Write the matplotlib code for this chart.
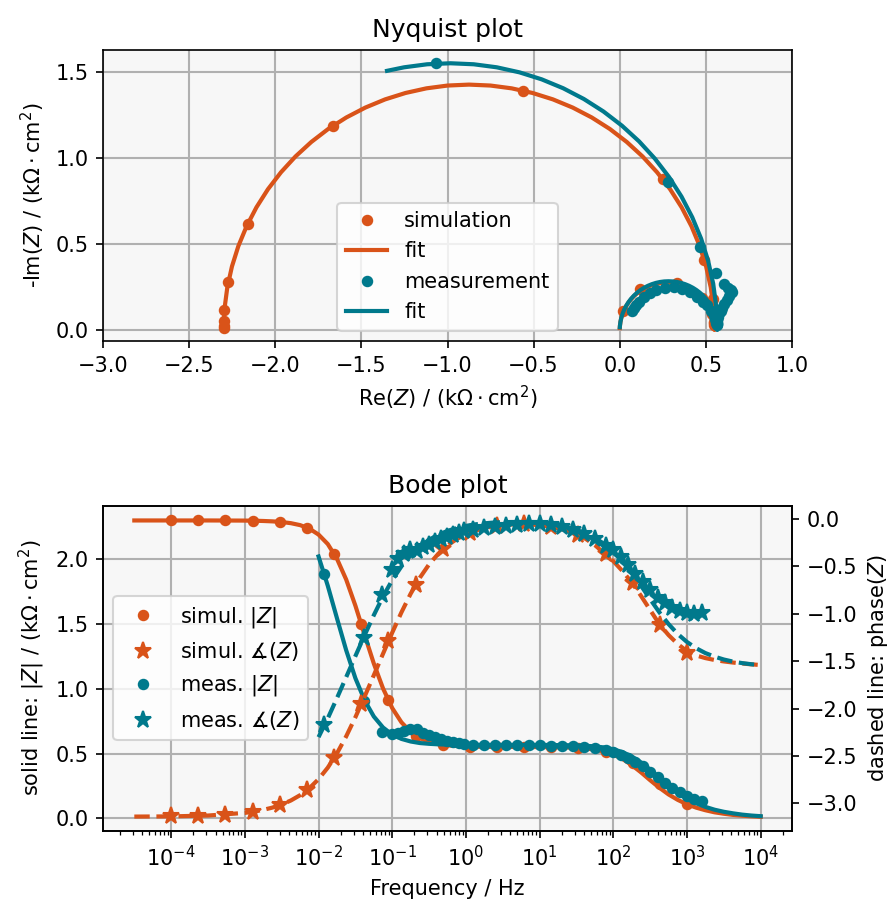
import numpy as np
import matplotlib
matplotlib.use('Agg')
import matplotlib.pyplot as plt
from matplotlib.ticker import MultipleLocator, LogLocator, NullFormatter

C_SIM = '#d95319'
C_MEAS = '#00798c'

# ---------------- simulated data points ----------------
sim_freq = [1.000e-4, 2.336e-4, 5.456e-4, 1.274e-3, 2.976e-3, 6.952e-3, 1.624e-2, 3.793e-2,
            8.859e-2, 0.2069, 0.4833, 1.129, 2.637, 6.158, 14.38, 33.60, 78.48, 183.3, 428.1, 1000.0]
sim_absz = [2.300, 2.300, 2.300, 2.298, 2.290, 2.245, 2.044, 1.500, 0.910, 0.638,
            0.568, 0.554, 0.551, 0.550, 0.549, 0.543, 0.512, 0.430, 0.265, 0.112]
sim_phase = [-3.137, -3.132, -3.119, -3.090, -3.020, -2.863, -2.523, -1.956, -1.292, -0.696,
             -0.322, -0.145, -0.073, -0.056, -0.083, -0.171, -0.370, -0.680, -1.118, -1.417]

# ---------------- measured data points ----------------
meas_freq = [0.0118, 0.0416, 0.0723, 0.0990, 0.120, 0.145, 0.174, 0.214, 0.263, 0.316, 0.380,
             0.457, 0.550, 0.661, 0.794, 0.955, 1.26, 1.78, 2.51, 3.55, 5.01, 7.08, 10.0, 14.1,
             20.0, 28.2, 39.8, 56.2, 79.4, 100.0, 126.0, 158.0, 200.0, 251.0, 316.0, 398.0,
             501.0, 631.0, 794.0, 1000.0, 1259.0, 1585.0]
meas_absz = [1.884, 0.905, 0.669, 0.650, 0.660, 0.675, 0.687, 0.688, 0.662, 0.645, 0.626,
             0.610, 0.597, 0.587, 0.579, 0.573, 0.568, 0.566, 0.565, 0.564, 0.564, 0.563, 0.563,
             0.562, 0.561, 0.558, 0.552, 0.540, 0.525, 0.510, 0.490, 0.465, 0.435, 0.400, 0.360,
             0.315, 0.275, 0.235, 0.200, 0.175, 0.152, 0.130]
meas_phase = [-2.174, -1.259, -0.800, -0.538, -0.420, -0.370, -0.330, -0.340, -0.300, -0.270,
              -0.240, -0.215, -0.190, -0.170, -0.150, -0.132, -0.115, -0.098, -0.083, -0.070,
              -0.060, -0.055, -0.058, -0.068, -0.088, -0.118, -0.155, -0.210, -0.280, -0.330,
              -0.400, -0.490, -0.580, -0.670, -0.750, -0.830, -0.890, -0.940, -0.970, -0.990,
              -1.000, -0.995]

# ---------------- Nyquist fit curves (read along the arcs) ----------------
sim_fit_re = [-2.3000, -2.2946, -2.2783, -2.2514, -2.2141, -2.1665, -2.1091, -2.0424, -1.9666,
              -1.8826, -1.7910, -1.6924, -1.5875, -1.4772, -1.3624, -1.2438, -1.1224, -0.9992,
              -0.8750, -0.7508, -0.6276, -0.5062, -0.3876, -0.2728, -0.1625, -0.0576, 0.0410,
              0.1326, 0.2166, 0.2924, 0.3591, 0.4165, 0.4641, 0.5014, 0.5283, 0.5446, 0.5500,
              0.5490, 0.5458, 0.5406, 0.5334, 0.5242, 0.5132, 0.5003, 0.4857, 0.4695, 0.4518,
              0.4327, 0.4125, 0.3912, 0.3691, 0.3462, 0.3227, 0.2990, 0.2750, 0.2510, 0.2273,
              0.2038, 0.1809, 0.1588, 0.1375, 0.1173, 0.0982, 0.0805, 0.0643, 0.0497, 0.0368,
              0.0258, 0.0166, 0.0094, 0.0042, 0.0010, 0.0002]
sim_fit_negim = [0.0030, 0.1242, 0.2474, 0.3688, 0.4874, 0.6022, 0.7125, 0.8174, 0.9160,
                 1.0076, 1.0916, 1.1674, 1.2341, 1.2915, 1.3391, 1.3764, 1.4033, 1.4196,
                 1.4250, 1.4196, 1.4033, 1.3764, 1.3391, 1.2915, 1.2341, 1.1674, 1.0916,
                 1.0076, 0.9160, 0.8174, 0.7125, 0.6022, 0.4874, 0.3688, 0.2474, 0.1242, 0.0000,
                 0.0240, 0.0477, 0.0712, 0.0941, 0.1162, 0.1375, 0.1577, 0.1768, 0.1945, 0.2107,
                 0.2253, 0.2382, 0.2492, 0.2584, 0.2656, 0.2708, 0.2740, 0.2750, 0.2740, 0.2708,
                 0.2656, 0.2584, 0.2492, 0.2382, 0.2253, 0.2107, 0.1945, 0.1768, 0.1577, 0.1375,
                 0.1162, 0.0941, 0.0712, 0.0477, 0.0240, 0.0110]
meas_fit_re = [-1.3510, -1.2519, -1.1181, -0.9830, -0.8479, -0.7141, -0.5821, -0.4532, -0.3284,
               -0.2085, -0.0945, 0.0127, 0.1123, 0.2035, 0.2859, 0.3585, 0.4209, 0.4726,
               0.5132, 0.5425, 0.5601, 0.5660,
               0.5649, 0.5617, 0.5564, 0.5489, 0.5395, 0.5281, 0.5148, 0.4998, 0.4831, 0.4649,
               0.4453, 0.4245, 0.4026, 0.3798, 0.3562, 0.3321, 0.3077, 0.2830, 0.2583, 0.2339,
               0.2098, 0.1862, 0.1634, 0.1415, 0.1207, 0.1011, 0.0829, 0.0662, 0.0512, 0.0379,
               0.0265, 0.0171, 0.0096, 0.0043, 0.0011, 0.0003]
meas_fit_negim = [1.5050, 1.5255, 1.5431, 1.5490, 1.5431, 1.5255, 1.4962, 1.4556, 1.4039,
                  1.3415, 1.2689, 1.1865, 1.0953, 0.9957, 0.8885, 0.7745, 0.6546, 0.5298,
                  0.4009, 0.2689, 0.1351, 0.0000,
                  0.0247, 0.0491, 0.0732, 0.0968, 0.1196, 0.1415, 0.1623, 0.1819, 0.2001, 0.2168,
                  0.2318, 0.2451, 0.2565, 0.2659, 0.2734, 0.2787, 0.2819, 0.2830, 0.2819, 0.2787,
                  0.2734, 0.2659, 0.2565, 0.2451, 0.2318, 0.2168, 0.2001, 0.1819, 0.1623, 0.1415,
                  0.1196, 0.0968, 0.0732, 0.0491, 0.0247, 0.0160]

# ---------------- Bode fit curves ----------------
simfit_freq = [3.162e-5, 1.000e-4, 3.162e-4, 1.000e-3, 1.334e-3, 1.778e-3, 2.371e-3, 3.162e-3,
               4.217e-3, 5.623e-3, 7.499e-3, 1.000e-2, 1.334e-2, 1.778e-2, 2.371e-2, 3.162e-2,
               4.217e-2, 5.623e-2, 7.499e-2, 0.1000, 0.1334, 0.1778, 0.2371, 0.3162, 0.4217,
               0.5623, 0.7499, 1.000, 1.334, 1.778, 2.371, 3.162, 4.217, 5.623, 7.499, 10.00,
               13.34, 17.78, 23.71, 31.62, 42.17, 56.23, 74.99, 100.0, 133.4, 177.8, 237.1,
               316.2, 421.7, 562.3, 749.9, 1000.0, 1334.0, 1778.0, 2371.0, 3162.0, 4217.0,
               5623.0, 7499.0, 10000.0]
simfit_absz = [2.300, 2.300, 2.300, 2.299, 2.298, 2.296, 2.293, 2.288, 2.279, 2.264, 2.237,
               2.191, 2.118, 2.004, 1.844, 1.642, 1.416, 1.195, 1.003, 0.851, 0.741, 0.667,
               0.619, 0.590, 0.573, 0.563, 0.558, 0.555, 0.553, 0.552, 0.551, 0.551, 0.551,
               0.550, 0.550, 0.550, 0.549, 0.548, 0.547, 0.544, 0.539, 0.530, 0.515, 0.492,
               0.458, 0.411, 0.355, 0.294, 0.236, 0.184, 0.142, 0.108, 0.082, 0.062, 0.046,
               0.035, 0.026, 0.020, 0.015, 0.011]
simfit_phase = [-3.140, -3.138, -3.129, -3.101, -3.087, -3.069, -3.045, -3.013, -2.970, -2.914,
                -2.841, -2.745, -2.624, -2.473, -2.294, -2.092, -1.874, -1.649, -1.422, -1.199,
                -0.985, -0.789, -0.620, -0.479, -0.367, -0.279, -0.212, -0.162, -0.124, -0.097,
                -0.078, -0.066, -0.058, -0.056, -0.058, -0.066, -0.078, -0.098, -0.125, -0.162,
                -0.210, -0.276, -0.360, -0.445, -0.550, -0.670, -0.810, -0.960, -1.110, -1.225,
                -1.320, -1.395, -1.440, -1.468, -1.488, -1.503, -1.515, -1.525, -1.534, -1.541]

measfit_freq = [1.000e-2, 1.334e-2, 1.778e-2, 2.371e-2, 3.162e-2, 4.217e-2, 5.623e-2, 7.499e-2,
                0.1000, 0.1334, 0.1778, 0.2371, 0.3162, 0.4217, 0.5623, 0.7499, 1.000, 1.334,
                1.778, 2.371, 3.162, 4.217, 5.623, 7.499, 10.00, 13.34, 17.78, 23.71, 31.62,
                42.17, 56.23, 74.99, 100.0, 133.4, 177.8, 237.1, 316.2, 421.7, 562.3, 749.9,
                1000.0, 1334.0, 1778.0, 2371.0, 3162.0, 4217.0, 5623.0, 7499.0, 10000.0]
measfit_absz = [2.022, 1.796, 1.545, 1.298, 1.082, 0.911, 0.786, 0.701, 0.646, 0.613, 0.593,
                0.581, 0.575, 0.571, 0.569, 0.568, 0.567, 0.567, 0.566, 0.566, 0.566, 0.566,
                0.566, 0.566, 0.566, 0.566, 0.565, 0.564, 0.563, 0.560, 0.555, 0.547, 0.533,
                0.511, 0.478, 0.432, 0.375, 0.313, 0.252, 0.198, 0.153, 0.116, 0.088, 0.066,
                0.050, 0.038, 0.028, 0.021, 0.016]
measfit_phase = [-2.302, -2.104, -1.890, -1.669, -1.447, -1.227, -1.015, -0.818, -0.645, -0.500,
                 -0.382, -0.290, -0.220, -0.166, -0.126, -0.096, -0.073, -0.057, -0.046, -0.038,
                 -0.033, -0.032, -0.032, -0.036, -0.043, -0.053, -0.067, -0.087, -0.115, -0.151,
                 -0.199, -0.263, -0.344, -0.445, -0.566, -0.703, -0.846, -0.985, -1.109, -1.214,
                 -1.298, -1.364, -1.415, -1.453, -1.483, -1.505, -1.521, -1.533, -1.543]

# ---------------- figure ----------------
fig = plt.figure(figsize=(896/150, 905/150), dpi=150)
ax1 = fig.add_axes([103/896, 1-341/905, 689/896, 291/905])
ax2 = fig.add_axes([103/896, 1-830.7/905, 689/896, 325/905])
ax3 = ax2.twinx()

for a in (ax1, ax2):
    a.set_facecolor('#f7f7f7')
    a.grid(True, color='#b0b0b0', linewidth=1.0)

sa = np.array(sim_absz); sp = np.array(sim_phase)
ma = np.array(meas_absz); mp = np.array(meas_phase)
ax1.plot(sa*np.cos(sp), -sa*np.sin(sp), 'o', color=C_SIM, ms=4.5, label='simulation')
ax1.plot(sim_fit_re, sim_fit_negim, '-', color=C_SIM, lw=2, label='fit')
ax1.plot(ma*np.cos(mp), -ma*np.sin(mp), 'o', color=C_MEAS, ms=4.5, label='measurement')
ax1.plot(meas_fit_re, meas_fit_negim, '-', color=C_MEAS, lw=2, label='fit')
ax1.set_xlim(-3, 1)
ax1.set_ylim(-0.064, 1.626)
ax1.xaxis.set_major_locator(MultipleLocator(0.5))
ax1.yaxis.set_major_locator(MultipleLocator(0.5))
ax1.set_xlabel('Re($Z$) / (k$\\Omega\\cdot$cm$^2$)')
ax1.set_ylabel('-Im($Z$) / (k$\\Omega\\cdot$cm$^2$)')
ax1.set_title('Nyquist plot')
ax1.legend(loc='lower center')

ax2.set_xscale('log')
h1, = ax2.plot(sim_freq, sim_absz, 'o', color=C_SIM, ms=4.5)
ax2.plot(simfit_freq, simfit_absz, '-', color=C_SIM, lw=2)
h3, = ax2.plot(meas_freq, meas_absz, 'o', color=C_MEAS, ms=4.5)
ax2.plot(measfit_freq, measfit_absz, '-', color=C_MEAS, lw=2)
h2, = ax3.plot(sim_freq, sim_phase, '*', color=C_SIM, ms=8.5)
ax3.plot(simfit_freq, simfit_phase, '--', color=C_SIM, lw=2)
h4, = ax3.plot(meas_freq, meas_phase, '*', color=C_MEAS, ms=8.5)
ax3.plot(measfit_freq, measfit_phase, '--', color=C_MEAS, lw=2)

ax2.set_xlim(10**-4.925, 10**4.425)
ax2.set_ylim(-0.096, 2.414)
ax3.set_ylim(-3.289, 0.14)
ax2.yaxis.set_major_locator(MultipleLocator(0.5))
ax3.yaxis.set_major_locator(MultipleLocator(0.5))
ax2.xaxis.set_major_locator(LogLocator(base=10, numticks=20))
ax2.xaxis.set_minor_locator(LogLocator(base=10, subs=np.arange(2, 10), numticks=20))
ax2.xaxis.set_minor_formatter(NullFormatter())
ax2.set_xlabel('Frequency / Hz')
ax2.set_ylabel('solid line: $|Z|$ / (k$\\Omega\\cdot$cm$^2$)')
ax3.set_ylabel('dashed line: phase($Z$)')
ax2.set_title('Bode plot')
ax3.legend([h1, h2, h3, h4],
           ['simul. $|Z|$', 'simul. $\\measuredangle(Z)$', 'meas. $|Z|$', 'meas. $\\measuredangle(Z)$'],
           loc='center left')

fig.savefig('out.png', dpi=150)
